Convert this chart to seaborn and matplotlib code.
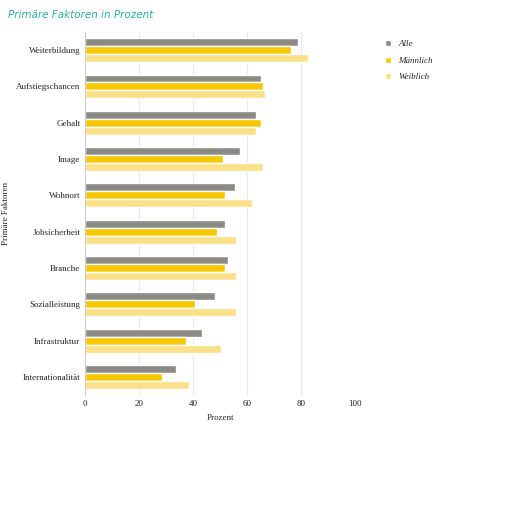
import pandas as pd
import matplotlib
matplotlib.use("Agg")
import matplotlib.pyplot as plt
import seaborn as sns

# data
faktoren = ["Weiterbildung", "Aufstiegschancen", "Gehalt", "Image", "Wohnort",
            "Jobsicherheit", "Branche", "Sozialleistung", "Infrastruktur", "Internationalität"]
alle = [79, 65, 63.5, 57.5, 55.7, 51.7, 52.8, 48, 43.4, 33.7]
maennlich = [76.3, 66, 65, 51, 52, 49, 51.7, 40.7, 37.3, 28.4]
weiblich = [82.5, 66.6, 63.5, 66, 61.7, 56, 56, 55.8, 50.2, 38.5]
gruppen = ["Alle", "Männlich", "Weiblich"]
farben = ["#8c8a85", "#f7c800", "#fbe08a"]

df = pd.DataFrame({"Faktor": faktoren * 3,
                   "Wert": alle + maennlich + weiblich,
                   "Gruppe": [g for g in gruppen for _ in faktoren]})

sns.set_style("white")
plt.rcParams["font.family"] = ["Liberation Serif", "DejaVu Serif"]

fig = plt.figure(figsize=(5.19, 5.08), dpi=100)
ax = fig.add_axes([0.164, 0.222, 0.52, 0.715])
sns.barplot(data=df, y="Faktor", x="Wert", hue="Gruppe", palette=farben,
            orient="h", width=0.66, saturation=1, ax=ax)

ax.set_xlim(0, 100)
ax.set_xticks([0, 20, 40, 60, 80, 100])
ax.grid(axis="x", color="#e8e8e8", lw=0.8)
ax.set_axisbelow(True)
for s in ["top", "right", "bottom"]:
    ax.spines[s].set_visible(False)
ax.spines["left"].set_color("#cccccc")
ax.tick_params(axis="both", labelsize=6.5, length=0)
ax.set_xlabel("Prozent", fontsize=6.5)
ax.set_ylabel("Primäre Faktoren", fontsize=6.5)

leg = ax.legend(loc="upper left", bbox_to_anchor=(1.08, 1.0), frameon=False,
                fontsize=6.5, handlelength=0.7, handleheight=0.7, labelspacing=0.9)
for t in leg.get_texts():
    t.set_fontstyle("italic")

fig.text(0.015, 0.97, "Primäre Faktoren in Prozent", color="#2ab0a0",
         fontsize=7.5, style="italic", family="DejaVu Sans", va="center")

fig.savefig("out.png", dpi=100)
